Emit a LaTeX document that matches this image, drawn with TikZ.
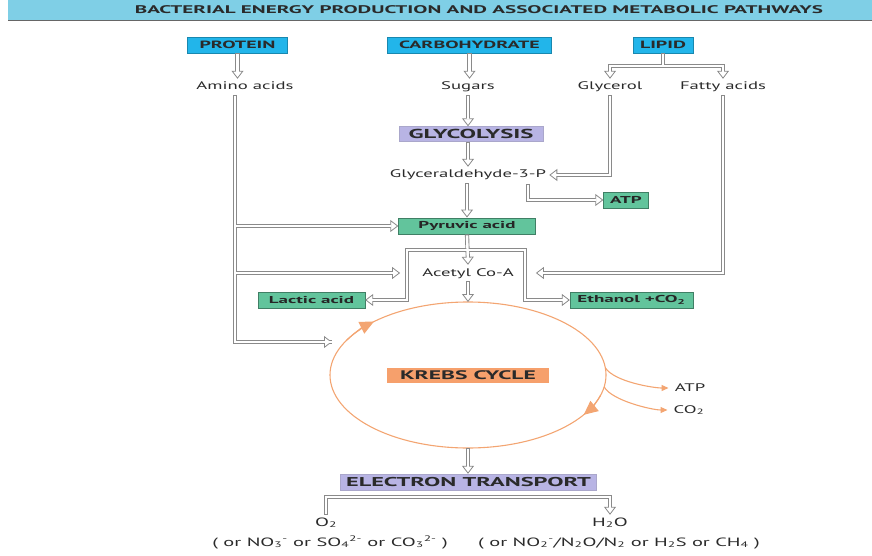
\documentclass[tikz,border=0pt]{standalone}
\usepackage{fontspec}
\setmainfont{PT Sans}[FakeStretch=1.7]
\newfontfamily\boxfont{PT Sans}[FakeStretch=1.9]
\usetikzlibrary{arrows.meta,shapes.geometric}
\definecolor{pipegray}{HTML}{8A8A8A}
\definecolor{txt}{HTML}{2A2A2A}
\definecolor{bandblue}{HTML}{7FCFE6}
\definecolor{cyanbox}{HTML}{22B5EA}
\definecolor{lav}{HTML}{B8B4E4}
\definecolor{grn}{HTML}{62C49C}
\definecolor{org}{HTML}{F6A06C}
\definecolor{orgline}{HTML}{F3A572}
\tikzset{
  lbl/.style={text=txt, font=\fontsize{11}{12}\selectfont, inner xsep=2pt, inner ysep=2.5pt, text height=8.5pt, text depth=2.5pt},
  box/.style={font=\boxfont\bfseries\fontsize{10.5}{11}\selectfont, text=txt, inner sep=0pt, minimum height=16pt},
  srcbox/.style={box, fill=cyanbox, draw=cyanbox!75!black, line width=0.4pt},
  procbox/.style={box, fill=lav, draw=lav!75!gray, line width=0.4pt},
  prodbox/.style={box, fill=grn, draw=grn!65!black, line width=0.4pt, font=\boxfont\bfseries\fontsize{10}{10}\selectfont, text=black!85, minimum height=16.5pt},
  pipeout/.style={draw=pipegray, line width=4.2pt},
  pipein/.style={draw=white, line width=2.4pt},
  orarrow/.style={draw=orgline, line width=1.1pt},
}
\newcommand\pipepaths{%
  \draw[cs, ae] (protein.south) -- (protein.south |- amino.north);
  \draw[cs, ae] (carb.south) -- (carb.south |- sugars.north);
  \draw[cs] (lipid.south) -- (lfork);
  \draw[ae] (lfork) -| (glycerol.north);
  \draw[ae] (lfork) -| (fatty.north);
  \draw[cs, ae] (sugars.south) -- (sugars.south |- glyco.north);
  \draw[cs, ae] (glyco.south -| g3p.north) -- (g3p.north);
  \draw[cs, ae] (g3p.south -| pyruvic.north) -- (pyruvic.north);
  \draw[cs, ae] (glycerol.south) |- (g3p.east);
  \draw[cs, ae] (atps) |- (atp.west);
  \draw[cs, ae] (fatty.south) |- (acetyl.east);
  \draw[cs] (atop) |- (kin);
  \draw[ae] (atop |- pyruvic.west) -- (pyruvic.west);
  \draw[ae] (atop |- acetyl.west) -- (acetyl.west);
  \draw[ae] (atop |- kin) -- (kin);
  \draw[cs, ae] (pyruvic.south) -- (acetyl.north);
  \draw[ae] (pfork) -| (fl) |- (lactic.east);
  \draw[ae] (pfork) -| (fr) |- (ethanol.west);
  \draw[cs, ae] (acetyl.south) -- (acetyl.south |- cycle.north);
  \draw[cs, ae] (cycle.south) -- (cycle.south |- et.north);
  \draw[cs, ae] (o2.north) |- (etbar) -| (h2o.north);
}
\begin{document}
\begin{tikzpicture}[x=1pt, y=1pt]
\useasboundingbox (0,0) rectangle (872,555);
% title band
\fill[bandblue] (8,535) rectangle (872,555);
\draw[black!60, line width=1.2pt] (8,534.4) -- (872,534.4);
\node[text=txt, font=\boxfont\bfseries\fontsize{11.1}{12}\selectfont] (title) at (479,545) {BACTERIAL ENERGY PRODUCTION AND ASSOCIATED METABOLIC PATHWAYS};
% sources
\node[srcbox, minimum width=100pt] (protein) at (237.5,510) {PROTEIN};
\node[srcbox, minimum width=164pt] (carb) at (469.5,510) {CARBOHYDRATE};
\node[srcbox, minimum width=60pt] (lipid) at (663,510) {LIPID};
% labels
\node[lbl] (amino) at (245,468) {Amino acids};
\node[lbl] (sugars) at (468,468) {Sugars};
\node[lbl] (glycerol) at (610,468) {Glycerol};
\node[lbl] (fatty) at (723,468) {Fatty acids};
\node[procbox, minimum width=144pt, minimum height=15pt, font=\boxfont\bfseries\fontsize{13}{13}\selectfont] (glyco) at (471,421) {GLYCOLYSIS};
\node[lbl, inner xsep=3pt] (g3p) at (468,380) {Glyceraldehyde-3-P};
\node[prodbox, minimum width=45pt] (atp) at (626,355) {ATP};
\node[prodbox, minimum width=137pt] (pyruvic) at (467,329) {Pyruvic acid};
\node[lbl, inner xsep=22pt] (acetyl) at (468,282) {Acetyl Co-A};
\node[prodbox, minimum width=107pt] (lactic) at (311.5,255) {Lactic acid};
\node[prodbox, minimum width=123pt] (ethanol) at (631.5,255) {Ethanol +CO\textsubscript{2}};
% krebs
\node[ellipse, draw=orgline, line width=1.1pt, minimum width=276pt, minimum height=146pt, inner sep=0pt, outer sep=0pt] (cycle) at (468,180) {};
\node[box, fill=org, minimum width=162pt, minimum height=15pt, font=\boxfont\bfseries\fontsize{12.4}{13}\selectfont] (krebs) at (468,180) {KREBS CYCLE};
\draw[orarrow, -{Triangle[length=14pt, width=13pt]}] (cycle.center) ++(152:138pt and 73pt) arc[start angle=152, end angle=133, x radius=138pt, y radius=73pt];
\draw[orarrow, -{Triangle[length=14pt, width=13pt]}] (cycle.center) ++(-16:138pt and 73pt) arc[start angle=-16, end angle=-33, x radius=138pt, y radius=73pt];
\node[lbl, inner xsep=6pt] (atp2) at (690,167) {ATP};
\node[lbl, inner xsep=6pt] (co2) at (689,145) {CO\textsubscript{2}};
\draw[orarrow, -{Triangle[length=7pt, width=6pt]}] (cycle.3) .. controls +(9,-14) and +(-15,0) .. (atp2.west);
\draw[orarrow, -{Triangle[length=7pt, width=6pt]}] (cycle.355) .. controls +(8,-14) and +(-15,0) .. (co2.west);
% electron transport
\node[procbox, minimum width=256pt, font=\boxfont\bfseries\fontsize{12.8}{13}\selectfont] (et) at (468.5,73) {ELECTRON TRANSPORT};
\node[lbl, font=\fontsize{12}{12}\selectfont] (o2) at (326,32) {O\textsubscript{2}};
\node[lbl, font=\fontsize{12}{12}\selectfont] (h2o) at (610,32) {H\textsubscript{2}O};
\node[lbl, font=\fontsize{12}{12}\selectfont] (alt1) at (330,12) {( or NO\textsubscript{3}\textsuperscript{-} or SO\textsubscript{4}\textsuperscript{2-} or CO\textsubscript{3}\textsuperscript{2-} )};
\node[lbl, font=\fontsize{12}{12}\selectfont] (alt2) at (619,12) {( or NO\textsubscript{2}\textsuperscript{-}/N\textsubscript{2}O/N\textsubscript{2} or H\textsubscript{2}S or CH\textsubscript{4} )};
% junction coordinates
\coordinate (lfork) at (663,489);
\coordinate (atps) at (528,371);
\coordinate (atop) at (235,460);
\coordinate (kin) at (332,213);
\coordinate (pfork) at (467,305);
\coordinate (fl) at (407,305);
\coordinate (fr) at (525,305);
\coordinate (etbar) at (468,58);
% pipes: outer then inner
\begin{scope}[pipeout, ae/.style={-{Triangle[fill=white, length=8pt, width=12pt, line width=0.8pt]}}, cs/.style={}]
\pipepaths
\end{scope}
\begin{scope}[pipein, ae/.style={shorten >=7pt}, cs/.style={shorten <=0.9pt}]
\pipepaths
\end{scope}
\end{tikzpicture}
\end{document}
